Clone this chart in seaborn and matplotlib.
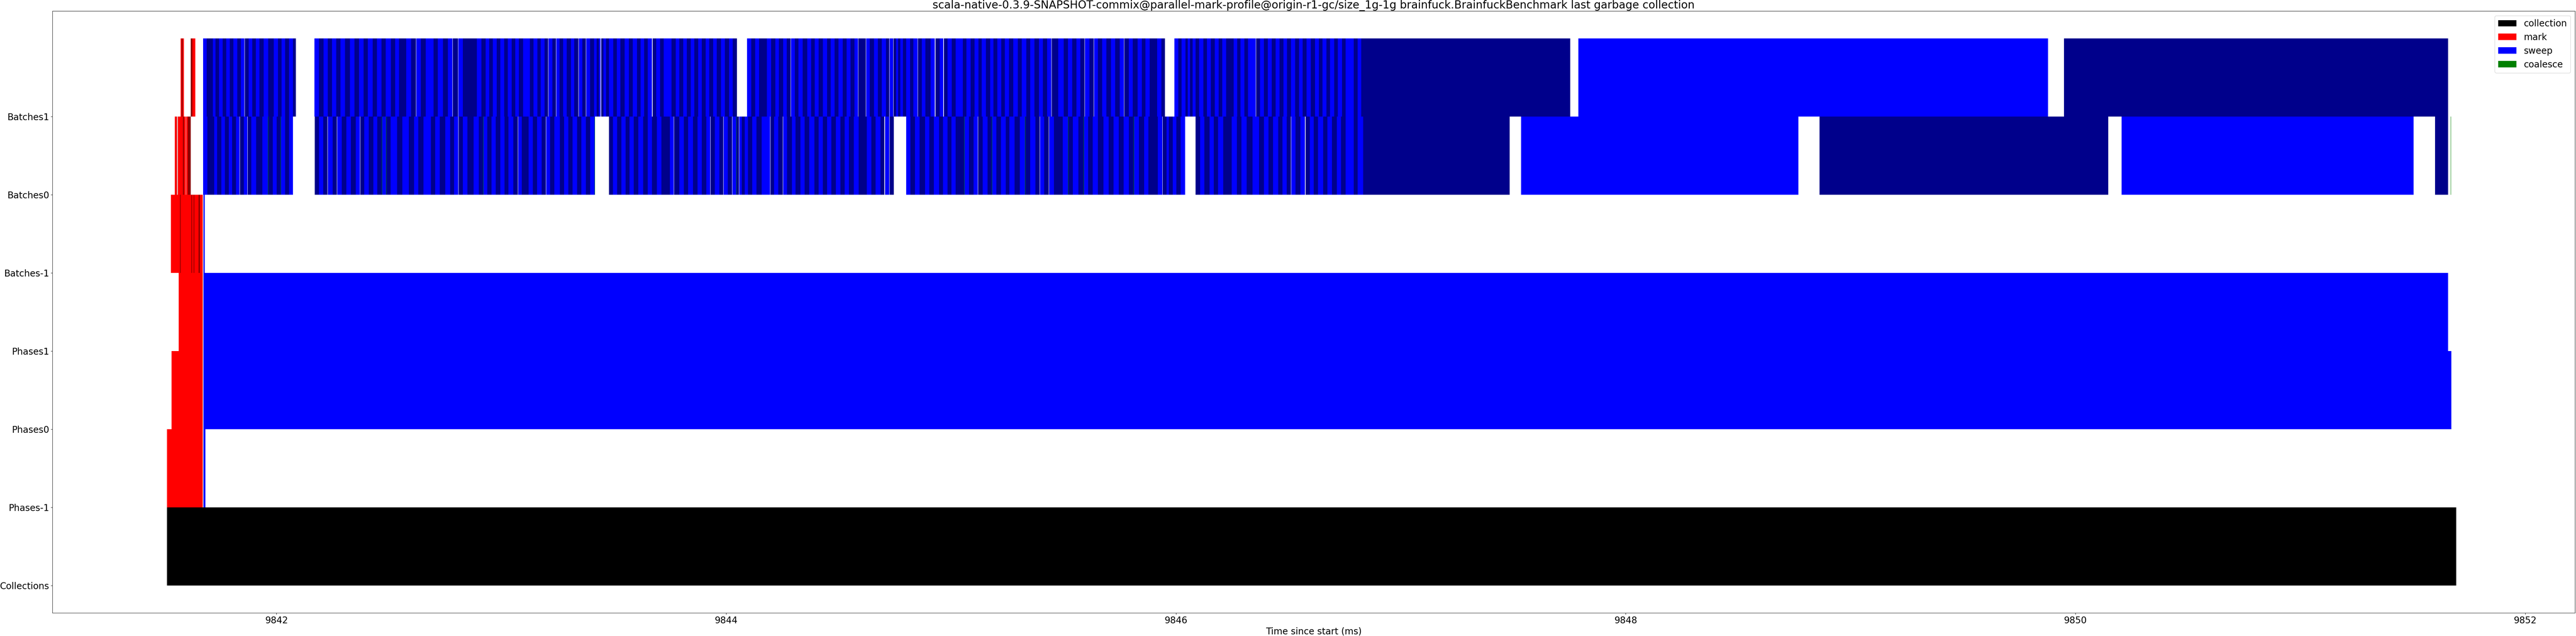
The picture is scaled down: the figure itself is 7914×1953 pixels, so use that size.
import matplotlib
matplotlib.use("Agg")
import matplotlib.pyplot as plt
from matplotlib.patches import Patch
import seaborn as sns

# ---------------------------------------------------------------- data
GC_START_MS = 9841.513          # start of the collection (ms since start)

row_labels = ["Collections", "Phases-1", "Phases0", "Phases1",
              "Batches-1", "Batches0", "Batches1"]
x_ticks = [9842, 9844, 9846, 9848, 9850, 9852]
x_tick_labels = ["9842", "9844", "9846", "9848", "9850", "9852"]
x_limits = [9841.004, 9852.222]

# all times below: microseconds after GC_START_MS
collection_us = [0.0, 10181.0]

phase_names = ["Phases-1", "Phases0", "Phases1"]
phase_mark_start_us = [1.0, 20.1, 53.3]
phase_mark_end_us = [159.6, 159.6, 159.6]
phase_sweep_start_us = [162.0, 162.0, 162.0]
phase_sweep_end_us = [170.6, 10159.0, 10144.0]

# mark batches (dark = odd batch)
bm1_mark_start_us = [17.2, 57.8, 60.7, 109.4, 111.6, 119.7, 122.7, 140.4, 147.0]
bm1_mark_end_us = [57.8, 60.7, 109.4, 111.6, 119.7, 122.7, 140.4, 147.0, 159.6]
bm1_mark_dark = [0, 1, 0, 1, 0, 1, 0, 1, 0]
bm1_sweep_runs_us = [[162.0, 169.0]]

b0_mark_start_us = [35.7, 43.8, 48.3, 71.0, 75.5, 86.3, 93.2]
b0_mark_end_us = [43.8, 46.1, 71.0, 75.5, 84.6, 93.2, 106.4]
b0_mark_dark = [0, 1, 0, 1, 0, 0, 1]

b1_mark_start_us = [60.6, 65.5, 70.4, 105.7, 113.5]
b1_mark_end_us = [65.5, 70.4, 76.5, 113.5, 126.8]
b1_mark_dark = [0, 1, 0, 1, 0]

# sweep batches: contiguous runs of batch boundaries (colours alternate)
b1_sweep_runs_us = [
    [161.5, 176.5, 205.2, 216.8, 232.3, 248.4, 264.4, 280.4, 295.9, 313.6, 329.1, 345.1],
    [346.6, 363.9, 380.0, 396.0, 410.9, 430.3, 450.8, 475.1, 493.9, 509.9, 526.0, 543.7, 561.4, 573.5],
    [655.9, 676.4, 696.3, 715.1, 733.9, 752.7, 771.5, 792.5, 813.5, 834.5, 853.9, 874.4, 894.3,
     915.3, 934.1, 954.0, 973.9, 995.8, 1014.6, 1032.8, 1063.8, 1085.4, 1107.5],
    [1108.7, 1129.0, 1151.7, 1185.4, 1205.4, 1228.6, 1249.0, 1270.6],
    [1271.8, 1294.4],
    [1295.6, 1316.5, 1379.0, 1398.9, 1417.7, 1433.7, 1449.8, 1466.9, 1483.0, 1500.7, 1516.1,
     1533.3, 1549.3, 1565.9, 1584.2, 1614.6, 1630.1, 1647.8, 1662.1, 1679.3, 1695.3],
    [1696.5, 1714.1, 1730.7],
    [1731.9, 1746.2, 1761.7, 1778.3, 1796.5, 1811.4, 1830.2],
    [1831.4, 1846.8, 1863.2],
    [1864.8, 1882.5, 1899.7, 1911.3, 1921.2, 1929.0],
    [1931.2, 1941.1, 1952.8, 1966.0, 1985.4, 2000.3, 2016.3, 2035.1, 2054.0, 2071.6, 2090.4,
     2105.9, 2122.5, 2139.1, 2157.9],
    [2159.6, 2175.6, 2193.3, 2209.9, 2244.7, 2262.4, 2278.5, 2296.2, 2311.6, 2329.9, 2345.9,
     2362.5, 2378.6, 2395.7, 2412.3, 2430.0, 2445.5, 2464.3, 2482.0, 2500.8, 2516.3, 2535.1],
    [2579.9, 2598.1, 2616.4, 2633.5, 2668.3, 2687.1, 2706.5, 2721.4, 2740.1, 2756.7, 2773.2],
    [2774.9, 2793.2, 2808.6, 2827.4, 2847.9, 2865.0, 2881.1, 2898.2, 2917.0, 2935.8, 2952.4,
     2969.0, 2986.7, 3005.5, 3022.6, 3039.8, 3057.5, 3073.5],
    [3075.2, 3108.4],
    [3110.0, 3126.1, 3144.3, 3161.5, 3178.6, 3198.0, 3212.3],
    [3214.0, 3230.0],
    [3231.1, 3242.2, 3251.0, 3261.0, 3273.2, 3287.5, 3304.7, 3320.2, 3338.4],
    [3340.1, 3356.7, 3373.8, 3397.0, 3415.8],
    [3417.5, 3436.3, 3452.9],
    [3455.1, 3472.2, 3489.9, 3508.2, 3540.3, 3555.7, 3574.0, 3591.7, 3608.6, 3624.1, 3641.8,
     3660.6, 3676.0, 3693.7, 3710.9, 3726.9, 3745.7, 3764.5, 3784.4, 3802.1, 3822.0, 3839.7,
     3858.5, 3878.4, 3896.1, 3914.9, 3933.7],
    [3935.4, 3963.0],
    [3964.2, 3989.0, 4007.8, 4026.6, 4044.9, 4062.0, 4080.8],
    [4082.5, 4103.0, 4121.2],
    [4122.9, 4140.6, 4159.4, 4178.2, 4198.1, 4216.9, 4236.8, 4255.6],
    [4257.2, 4277.1, 4295.4, 4316.4, 4335.2, 4351.3, 4370.6, 4403.2, 4422.0, 4438.1],
    [4479.8, 4498.1, 4513.0, 4529.1, 4539.6, 4550.1, 4561.1, 4573.9, 4589.9, 4608.7, 4625.8,
     4642.4, 4659.6, 4676.7, 4692.7, 4710.4, 4743.6, 4759.1, 4774.6, 4791.2, 4808.3, 4842.6],
    [4844.3, 4861.4, 4879.1, 4896.3, 4913.9, 4931.1, 4948.2, 4964.8, 4981.4, 4999.1, 5016.8,
     5035.1, 5051.1, 5068.8, 5087.6, 5106.4, 5123.0, 5139.6, 5156.2, 5172.8, 5191.6, 5207.0,
     5225.8, 5242.4, 5277.8, 5296.1, 5311.0, 6241.0],
    [6277.0, 8365.0],
    [8437.0, 10144.0],
]

b0_sweep_runs_us = [
    [161.5, 179.8, 209.7, 224.0, 241.7, 258.3, 274.9, 290.4, 307.0, 323.0],
    [324.7, 342.4, 358.4],
    [359.5, 375.6, 396.6, 424.8, 449.7, 471.2, 488.4, 506.1, 526.0, 543.7, 560.8],
    [657.6, 676.4, 695.2, 714.0],
    [715.1, 737.2, 756.0],
    [757.1, 778.1, 797.5, 818.0, 839.5, 858.3],
    [860.0, 877.1, 897.6, 917.5, 936.3, 956.8, 975.6, 994.7, 1023.4, 1046.6, 1076.0, 1098.6,
     1118.0, 1141.8, 1174.4, 1192.6],
    [1193.7, 1214.2, 1237.4, 1259.5, 1277.8, 1296.6],
    [1297.7, 1316.5, 1337.0, 1364.6, 1386.7, 1406.1, 1424.9, 1443.7, 1463.1, 1482.4, 1501.8,
     1519.5, 1540.5, 1560.9],
    [1562.0, 1578.1, 1608.5, 1627.3, 1646.6, 1666.0, 1684.8],
    [1686.5, 1704.2, 1723.0, 1747.8, 1766.1, 1784.9, 1803.7, 1824.7, 1843.0, 1863.2, 1882.5, 1903.0],
    [1966.0, 1983.2, 2002.0, 2020.8, 2039.6, 2056.7, 2076.1, 2096.0, 2118.1, 2138.0, 2157.4,
     2178.9, 2199.9, 2237.5, 2254.1],
    [2256.3, 2278.5, 2298.4, 2318.3, 2339.3, 2359.2, 2379.1, 2399.6, 2416.2],
    [2418.4, 2437.2, 2457.6, 2474.2],
    [2475.9, 2495.2, 2513.5],
    [2515.2, 2532.8, 2543.9],
    [2545.6, 2557.2, 2569.9, 2584.8, 2603.6, 2622.4, 2645.1, 2682.7],
    [2684.4, 2699.9, 2718.7, 2739.0],
    [2740.6, 2758.3, 2779.3, 2795.9, 2816.9, 2836.3, 2856.2, 2879.4, 2898.2, 2917.0, 2935.8,
     2954.6, 2974.5, 2995.6, 3013.8, 3033.7, 3054.7, 3076.3, 3113.3, 3133.2, 3152.1, 3173.1, 3191.3],
    [3193.0, 3211.8],
    [3213.4, 3233.3],
    [3287.5, 3306.3, 3326.2, 3347.8, 3371.0, 3390.9, 3411.4, 3433.5, 3451.8, 3471.1, 3489.4,
     3508.2, 3546.3, 3567.4, 3587.8, 3606.4],
    [3608.0, 3628.5, 3649.5, 3669.4, 3689.3, 3709.2, 3730.2, 3746.8, 3770.0, 3793.3, 3816.5,
     3839.7, 3861.8, 3881.2],
    [3882.9, 3901.7, 3922.1],
    [3923.8, 3944.8, 3984.1, 4007.3, 4028.9, 4053.2, 4077.0, 4096.9, 4116.8, 4140.6, 4164.9,
     4188.1, 4209.7, 4232.4, 4254.5, 4277.7, 4300.4, 4323.0, 4345.2, 4364.0, 4406.0, 4426.5],
    [4428.1, 4445.3, 4456.3, 4472.7, 4489.2, 4507.5, 4528.0],
    [4573.9, 4595.4, 4614.2, 4636.3, 4656.3, 4675.1, 4698.3, 4735.9, 4758.0, 4779.0, 4801.1,
     4828.2, 4857.0, 4879.1, 4898.5, 4919.5, 4941.6, 4960.4, 4980.3, 4999.1],
    [5000.8, 5019.0, 5040.0, 5061.0],
    [5063.3, 5082.1, 5099.8, 5119.4, 5141.8, 5160.6, 5181.6, 5202.6, 5221.4, 5241.3, 5277.8,
     5295.5, 5319.9, 5971.0],
    [6022.0, 7256.0],
    [7350.0, 8634.0],
    [8693.0, 9991.0],
    [10087.0, 10144.0],
]

# coalesce batches on the Batches0 thread (very short)
b0_coalesce_us = [449.7, 506.1, 956.8, 975.6, 1406.1, 1903.0, 2178.9, 2532.3, 3287.5,
                  3306.3, 3546.3, 3669.4, 3816.5, 4007.3, 4077.0, 4096.9, 4116.8, 4209.7,
                  4300.4, 4758.0, 5118.6, 10157.0]
coalesce_len_us = 1.0

title = ("scala-native-0.3.9-SNAPSHOT-commix@parallel-mark-profile@origin-r1-gc/size_1g-1g "
         "brainfuck.BrainfuckBenchmark last garbage collection")
legend_labels = ["collection", "mark", "sweep", "coalesce"]

# ---------------------------------------------------------------- style
COL = {"collection": "black", "mark": "red", "mark_dark": "darkred",
       "sweep": "blue", "sweep_dark": "darkblue", "coalesce": "green"}

sns.set_style("ticks", {"axes.edgecolor": "black", "xtick.color": "black",
                        "ytick.color": "black", "text.color": "black",
                        "axes.labelcolor": "black", "patch.force_edgecolor": False})
plt.rcParams.update({
    "font.family": ["DejaVu Sans"], "font.size": 20,
    "axes.linewidth": 0.8, "xtick.major.size": 3.5, "ytick.major.size": 3.5,
    "xtick.major.width": 0.8, "ytick.major.width": 0.8,
    "xtick.labelsize": 20, "ytick.labelsize": 20, "axes.titlesize": 24,
    "axes.labelsize": 20, "legend.fontsize": 20,
})


def ms(t_us):
    return GC_START_MS + t_us / 1000.0


def draw(ax, row_name, starts, ends, colors, z=2):
    row = row_labels.index(row_name)
    xr = [(ms(a), (b - a) / 1000.0) for a, b in zip(starts, ends)]
    ax.broken_barh(xr, (row, 1), facecolors=colors, edgecolor="none",
                   linewidth=0, zorder=z)


def runs_to_segments(runs):
    s, e = [], []
    for run in runs:
        for a, b in zip(run[:-1], run[1:]):
            s.append(a)
            e.append(b)
    return s, e


fig = plt.figure(figsize=(79.14, 19.53), dpi=100)
ax = fig.add_axes([0.020344, 0.036354, 0.97928, 0.94624])

# collection
draw(ax, "Collections", [collection_us[0]], [collection_us[1]], [COL["collection"]])

# phases
for name, ms0, ms1, ss0, ss1 in zip(phase_names, phase_mark_start_us, phase_mark_end_us,
                                    phase_sweep_start_us, phase_sweep_end_us):
    draw(ax, name, [ms0], [ms1], [COL["mark"]])
    draw(ax, name, [ss0], [ss1], [COL["sweep"]])

# mark batches
for name, s, e, d in [("Batches-1", bm1_mark_start_us, bm1_mark_end_us, bm1_mark_dark),
                      ("Batches0", b0_mark_start_us, b0_mark_end_us, b0_mark_dark),
                      ("Batches1", b1_mark_start_us, b1_mark_end_us, b1_mark_dark)]:
    draw(ax, name, s, e, [COL["mark_dark"] if k else COL["mark"] for k in d])

# sweep batches
for name, runs in [("Batches-1", bm1_sweep_runs_us), ("Batches0", b0_sweep_runs_us),
                   ("Batches1", b1_sweep_runs_us)]:
    s, e = runs_to_segments(runs)
    cols = [COL["sweep"] if i % 2 == 0 else COL["sweep_dark"] for i in range(len(s))]
    draw(ax, name, s, e, cols)

# coalesce
draw(ax, "Batches0", [t - 0.3 for t in b0_coalesce_us],
     [t - 0.3 + coalesce_len_us for t in b0_coalesce_us],
     [COL["coalesce"]] * len(b0_coalesce_us), z=3)

ax.set_ylim(-0.35, 7.35)
ax.set_xlim(*x_limits)
ax.set_yticks(range(len(row_labels)))
ax.set_yticklabels(row_labels)
ax.set_xticks(x_ticks)
ax.set_xticklabels(x_tick_labels)
ax.set_xlabel("Time since start (ms)")
ax.set_title(title)

handles = [Patch(facecolor=COL[k], edgecolor="none", label=k) for k in legend_labels]
ax.legend(handles=handles, loc="upper right")

fig.savefig("out.png", dpi=100)
